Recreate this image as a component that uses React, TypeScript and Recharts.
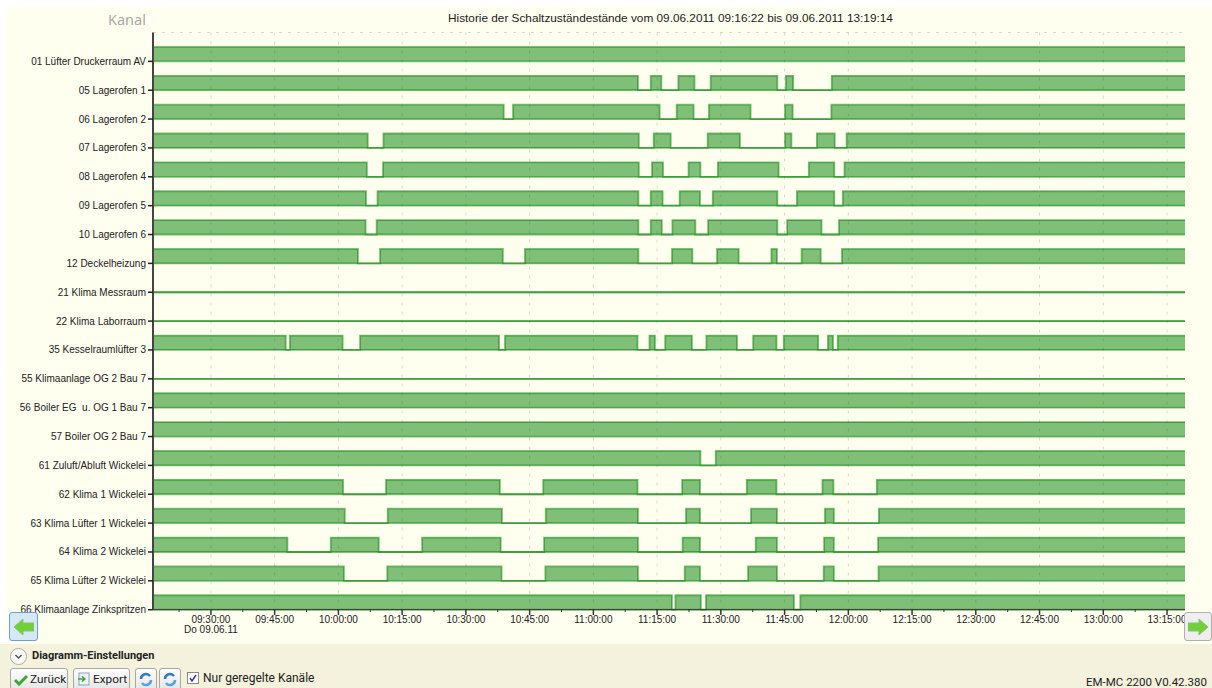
import { ComposedChart, Area, XAxis, YAxis, CartesianGrid } from 'recharts';

// times are minutes after 09:00, each channel lists its switch times as off,on,off,... pairs
const START = 16.37;
const END = 259.23;

const channels = [
  '01 Lüfter Druckerraum AV',
  '05 Lagerofen 1',
  '06 Lagerofen 2',
  '07 Lagerofen 3',
  '08 Lagerofen 4',
  '09 Lagerofen 5',
  '10 Lagerofen 6',
  '12 Deckelheizung',
  '21 Klima Messraum',
  '22 Klima Laborraum',
  '35 Kesselraumlüfter 3',
  '55 Klimaanlage OG 2 Bau 7',
  '56 Boiler EG  u. OG 1 Bau 7',
  '57 Boiler OG 2 Bau 7',
  '61 Zuluft/Abluft Wickelei',
  '62 Klima 1 Wickelei',
  '63 Klima Lüfter 1 Wickelei',
  '64 Klima 2 Wickelei',
  '65 Klima Lüfter 2 Wickelei',
  '66 Klimaanlage Zinkspritzen',
];

const off01: number[] = [];
const off05 = [130.5, 133.5, 136.0, 140.0, 143.8, 147.6, 163.3, 165.3, 167.0, 176.1];
const off06 = [98.9, 101.1, 135.6, 139.6, 143.6, 147.2, 157.0, 165.1, 166.9, 176.0];
const off07 = [66.9, 70.6, 130.7, 134.2, 138.2, 146.9, 154.5, 165.1, 166.6, 172.6, 176.8, 179.6];
const off08 = [66.7, 70.5, 130.7, 133.8, 136.4, 142.4, 145.2, 149.3, 163.6, 170.7, 176.7, 179.1];
const off09 = [66.5, 69.2, 130.6, 133.5, 136.3, 140.3, 145.1, 148.1, 163.3, 167.9, 176.7, 178.7];
const off10 = [66.4, 69.0, 130.6, 133.5, 136.1, 138.6, 144.0, 147.0, 163.3, 165.6, 173.7, 177.8];
const off12 = [64.6, 69.8, 98.7, 103.9, 130.6, 138.5, 143.3, 149.1, 154.2, 161.9, 163.2, 169.0, 173.5, 178.5];
const off21 = [START];
const off22 = [START];
const off35 = [47.6, 48.6, 61.0, 65.1, 97.8, 99.2, 130.4, 133.2, 134.5, 136.9, 143.2, 146.6, 153.8, 157.6, 163.1, 164.8, 172.9, 175.2, 176.4, 177.5];
const off55 = [START];
const off56: number[] = [];
const off57: number[] = [];
const off61 = [145.2, 148.8];
const off62 = [61.1, 71.2, 98.0, 108.2, 130.4, 140.9, 145.1, 156.1, 163.1, 173.9, 176.5, 186.7];
const off63 = [61.5, 71.6, 98.5, 108.8, 130.5, 141.8, 145.1, 157.1, 163.2, 174.5, 176.6, 187.2];
const off64 = [48.0, 58.2, 69.5, 79.7, 98.2, 108.4, 130.5, 141.0, 145.1, 158.2, 163.2, 174.3, 176.6, 187.0];
const off65 = [61.3, 71.5, 98.4, 108.7, 130.5, 141.5, 145.1, 156.4, 163.2, 174.2, 176.6, 187.1];
const off66 = [138.5, 139.3, 145.3, 146.5, 167.2, 168.7];

const offPeriods = [
  off01, off05, off06, off07, off08, off09, off10, off12, off21, off22,
  off35, off55, off56, off57, off61, off62, off63, off64, off65, off66,
];

const majorTicks = [30, 45, 60, 75, 90, 105, 120, 135, 150, 165, 180, 195, 210, 225, 240, 255];
const minorTicks = [22.5, 37.5, 52.5, 67.5, 82.5, 97.5, 112.5, 127.5, 142.5, 157.5, 172.5, 187.5, 202.5, 217.5, 232.5, 247.5];
const rowTicks = channels.map((_, i) => i);

const ON_HEIGHT = 0.5;

const isOn = (off: number[], t: number) => off.filter((v) => v <= t).length % 2 === 0;

const times = Array.from(new Set([START, END, ...offPeriods.flat()])).sort((a, b) => a - b);

const tableData = times.map((t) => {
  const row: Record<string, unknown> = { t };
  offPeriods.forEach((off, i) => {
    const base = channels.length - 1 - i;
    row[`ch${i}`] = [base, isOn(off, t) ? base + ON_HEIGHT : base];
  });
  return row;
});

const clock = (value: number) => {
  const h = 9 + Math.floor(value / 60);
  const m = value % 60;
  return `${String(h).padStart(2, '0')}:${String(m).padStart(2, '0')}:00`;
};

const axisFont = '"Liberation Sans", Arial, sans-serif';
const ui = 'Roboto, sans-serif';

function TimeTick({ x, payload }: any) {
  const v = payload.value;
  const major = majorTicks.includes(v);
  return (
    <g fontFamily={axisFont} fontSize={10} fill="#222">
      <line x1={x} x2={x} y1={609.7} y2={major ? 615 : 612} stroke="#333" strokeWidth={major ? 1.5 : 1} />
      {major && (
        <text x={x} y={623} textAnchor="middle">
          {clock(v)}
        </text>
      )}
      {v === 30 && (
        <text x={x} y={633} textAnchor="middle">
          Do 09.06.11
        </text>
      )}
    </g>
  );
}

function ChannelTick({ x, y, payload }: any) {
  return (
    <text x={x} y={y + 3.5} textAnchor="end" fontFamily={axisFont} fontSize={10} fill="#222" xmlSpace="preserve">
      {channels[channels.length - 1 - payload.value]}
    </text>
  );
}

function Arrow({ left }: { left: boolean }) {
  return (
    <svg width="20" height="16" viewBox="0 0 20 16">
      <polygon
        points={left ? '0,8 9,0 9,4 20,4 20,12 9,12 9,16' : '20,8 11,0 11,4 0,4 0,12 11,12 11,16'}
        fill="#6fd03a"
        stroke="#8fc070"
        strokeWidth="1"
      />
    </svg>
  );
}

const navButton: React.CSSProperties = {
  position: 'absolute',
  top: 612,
  height: 29,
  boxSizing: 'border-box',
  borderRadius: 3,
  display: 'flex',
  alignItems: 'center',
  justifyContent: 'center',
};

const toolButton: React.CSSProperties = {
  position: 'absolute',
  top: 668,
  height: 24,
  boxSizing: 'border-box',
  border: '1px solid #a9a9a0',
  borderRadius: 3,
  background: 'linear-gradient(#fdfdfd, #e4e4e4)',
  fontFamily: ui,
  fontSize: 11.8,
  color: '#222',
  paddingTop: 3,
  whiteSpace: 'nowrap',
};

function Refresh({ left }: { left: number }) {
  return (
    <div style={{ ...toolButton, left, width: 22, paddingLeft: 3 }}>
      <svg width="14" height="15" viewBox="0 0 14 15">
        <path d="M2 7 A5 5 0 0 1 11 4" fill="none" stroke="#2f78c8" strokeWidth="2.5" />
        <path d="M12 8 A5 5 0 0 1 3 11" fill="none" stroke="#5aa0e0" strokeWidth="2.5" />
      </svg>
    </div>
  );
}

export default function App() {
  return (
    <div style={{ position: 'absolute', left: 0, top: 0, width: 1212, height: 688, overflow: 'hidden', background: '#fff' }}>
      <div style={{ position: 'absolute', left: 7, top: 7, width: 1205, height: 637, background: '#fffff0' }} />
      <div style={{ position: 'absolute', left: 0, top: 644, width: 1212, height: 44, background: '#f4f2dc' }} />

      <div style={{ position: 'absolute', left: 0, top: 0 }}>
        <ComposedChart
          width={1212}
          height={688}
          data={tableData}
          margin={{ top: 32.5, right: 27, bottom: 0, left: 0 }}
        >
          <CartesianGrid
            stroke="#d8d8d0"
            strokeDasharray="3 6"
            verticalValues={majorTicks}
            horizontalValues={[20]}
          />
          <XAxis
            dataKey="t"
            type="number"
            domain={[START, END]}
            ticks={[...majorTicks, ...minorTicks].sort((a, b) => a - b)}
            interval={0}
            height={78.3}
            tickLine={false}
            tick={<TimeTick />}
            axisLine={{ stroke: '#333' }}
          />
          <YAxis
            type="number"
            width={153}
            domain={[0, 20]}
            ticks={rowTicks}
            interval={0}
            tick={<ChannelTick />}
            tickSize={5}
            tickMargin={2}
            tickLine={{ stroke: '#222', strokeWidth: 1.5 }}
            axisLine={{ stroke: '#444', strokeWidth: 2 }}
          />
          {channels.map((name, i) => (
            <Area
              key={name}
              dataKey={`ch${i}`}
              type="stepAfter"
              stroke="#008000"
              strokeOpacity={0.5}
              strokeWidth={1.8}
              fill="#008000"
              fillOpacity={0.5}
              dot={false}
              activeDot={false}
              isAnimationActive={false}
            />
          ))}
        </ComposedChart>
      </div>

      <div style={{ position: 'absolute', left: 108, top: 9, fontFamily: '"Noto Sans", sans-serif', fontSize: 14.5, color: '#aaa' }}>Kanal</div>
      <div style={{ position: 'absolute', left: 448, top: 11, width: 444, textAlign: 'center', whiteSpace: 'nowrap', fontFamily: axisFont, fontSize: 11.8, color: '#222' }}>
        Historie der Schaltzuständestände vom 09.06.2011 09:16:22 bis 09.06.2011 13:19:14
      </div>

      <div style={{ ...navButton, left: 9, width: 29, border: '1px solid #6fa0c8', background: '#d4e8f6' }}>
        <Arrow left />
      </div>
      <div style={{ ...navButton, left: 1184, width: 28, border: '1px solid #b0b0b0', background: '#eeeeee' }}>
        <Arrow left={false} />
      </div>

      <div style={{ position: 'absolute', left: 10, top: 648, width: 15, height: 15, border: '1px solid #aaa', borderRadius: '50%', background: '#fafaf5' }}>
        <svg width="15" height="15" viewBox="0 0 15 15">
          <path d="M4.5 6 L7.5 9 L10.5 6" fill="none" stroke="#555" strokeWidth="1.5" />
        </svg>
      </div>
      <div style={{ position: 'absolute', left: 32, top: 649, fontFamily: ui, fontSize: 11, fontWeight: 700, color: '#222', whiteSpace: 'nowrap' }}>
        Diagramm-Einstellungen
      </div>

      <div style={{ ...toolButton, left: 10, width: 58, paddingLeft: 19 }}>
        <svg width="14" height="12" viewBox="0 0 14 12" style={{ position: 'absolute', left: 3, top: 5 }}>
          <path d="M1 6 L5 10 L13 2" fill="none" stroke="#3aa835" strokeWidth="3" />
        </svg>
        Zurück
      </div>
      <div style={{ ...toolButton, left: 73, width: 57, paddingLeft: 19 }}>
        <svg width="14" height="14" viewBox="0 0 14 14" style={{ position: 'absolute', left: 3, top: 3 }}>
          <rect x="2" y="1" width="10" height="12" fill="#eef4fa" stroke="#8aa4c0" />
          <path d="M1 7 H7 M5 4.5 L8 7 L5 9.5" fill="none" stroke="#3aa835" strokeWidth="1.5" />
        </svg>
        Export
      </div>
      <Refresh left={135} />
      <Refresh left={159} />

      <div style={{ position: 'absolute', left: 187, top: 672, width: 12, height: 12, boxSizing: 'border-box', border: '1px solid #8a8a8a', background: '#fff' }}>
        <svg width="10" height="10" viewBox="0 0 10 10" style={{ display: 'block' }}>
          <path d="M2 5 L4 8 L8 2" fill="none" stroke="#2a3a8a" strokeWidth="1.5" />
        </svg>
      </div>
      <div style={{ position: 'absolute', left: 203, top: 671, fontFamily: ui, fontSize: 12, color: '#222', whiteSpace: 'nowrap' }}>
        Nur geregelte Kanäle
      </div>
      <div style={{ position: 'absolute', left: 1086, top: 675, fontFamily: ui, fontSize: 11.5, color: '#222', whiteSpace: 'nowrap' }}>
        EM-MC 2200 V0.42.380
      </div>
    </div>
  );
}
